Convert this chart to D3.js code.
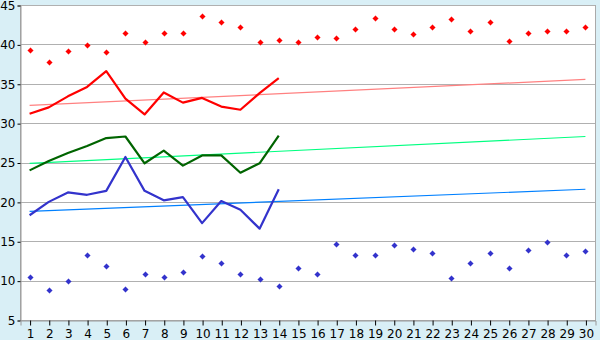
<!DOCTYPE html>
<html>
<head>
<meta charset="utf-8">
<script src="https://cdnjs.cloudflare.com/ajax/libs/d3/7.9.0/d3.min.js"></script>
<style>
  html, body { margin: 0; padding: 0; background: #d9eff6; }
  svg { display: block; }
  text { font-family: "DejaVu Sans", Verdana, sans-serif; font-size: 12px; fill: #000; }
</style>
</head>
<body>
<div id="chart"></div>
<script>
// days on the x axis
const days = d3.range(1, 31);
const yTicks = [5, 10, 15, 20, 25, 30, 35, 40, 45];

// upper scatter (red crosses), days 1..30
const redDots = [39.25, 37.7, 39.1, 39.9, 39.0, 41.5, 40.3, 41.5, 41.4, 43.6,
                 42.8, 42.2, 40.3, 40.6, 40.3, 40.9, 40.8, 41.9, 43.4, 42.0,
                 41.3, 42.2, 43.2, 41.7, 42.8, 40.4, 41.5, 41.7, 41.7, 42.2];
// lower scatter (blue crosses), days 1..30
const blueDots = [10.4, 8.8, 9.9, 13.2, 11.8, 8.9, 10.9, 10.4, 11.1, 13.1,
                  12.2, 10.8, 10.2, 9.3, 11.6, 10.8, 14.6, 13.2, 13.3, 14.5,
                  14.0, 13.5, 10.3, 12.3, 13.5, 11.6, 13.9, 14.9, 13.2, 13.7];

// lines, days 1..14
const redLine = [31.2, 32.0, 33.4, 34.6, 36.6, 33.1, 31.1, 33.9, 32.6, 33.2, 32.1, 31.7, 33.8, 35.7];
const greenLine = [24.0, 25.2, 26.2, 27.1, 28.1, 28.3, 24.9, 26.5, 24.6, 25.9, 25.9, 23.7, 24.9, 28.4];
const blueLine = [18.3, 20.0, 21.2, 20.9, 21.4, 25.7, 21.4, 20.2, 20.6, 17.3, 20.1, 19.0, 16.6, 21.6];

// trend lines: value at day 1 and day 30
const trendDays = [1, 30];
const redTrend = [32.25, 35.55];
const greenTrend = [24.9, 28.3];
const blueTrend = [18.8, 21.6];

(function () {
  const W = 600, H = 340;
  const m = { left: 20, right: 595, top: 5, bottom: 320 };

  const svg = d3.select('#chart').append('svg')
    .attr('width', W).attr('height', H);

  const x = d3.scalePoint().domain(days).range([m.left, m.right]).padding(0.5);
  const y = d3.scaleLinear().domain([5, 45]).range([m.bottom, m.top]);

  // plot area
  svg.append('rect')
    .attr('x', m.left + 0.5).attr('y', m.top + 0.5)
    .attr('width', m.right - m.left).attr('height', m.bottom - m.top)
    .attr('fill', '#fff').attr('stroke', '#aaa').attr('stroke-width', 1)
    .attr('shape-rendering', 'crispEdges');

  // gridlines
  svg.append('g').selectAll('line')
    .data(yTicks)
    .join('line')
    .attr('x1', m.left).attr('x2', m.right)
    .attr('y1', d => Math.round(y(d)) + 0.5).attr('y2', d => Math.round(y(d)) + 0.5)
    .attr('stroke', '#b0b0b0')
    .attr('shape-rendering', 'crispEdges');

  // axes
  const yAxis = d3.axisLeft(y).tickValues(yTicks).tickSize(3).tickPadding(2);
  const gy = svg.append('g').attr('transform', `translate(${m.left + 0.5},0.5)`).call(yAxis);
  const xAxis = d3.axisBottom(x).tickSize(5).tickPadding(4);
  const gx = svg.append('g').attr('transform', `translate(0.5,${m.bottom + 0.5})`).call(xAxis);
  [gy, gx].forEach(g => {
    g.select('.domain').attr('stroke', '#999');
    g.selectAll('.tick line').attr('stroke', '#000');
    g.selectAll('text').attr('font-size', 12).attr('font-family', '"DejaVu Sans", Verdana, sans-serif').attr('fill', '#000');
  });

  // trend lines
  const trendLine = d3.line().x((d, i) => x(trendDays[i])).y(d => y(d));
  [[redTrend, '#ff8080'], [greenTrend, '#00ff80'], [blueTrend, '#0080ff']].forEach(([vals, col]) => {
    svg.append('path')
      .attr('d', trendLine(vals))
      .attr('fill', 'none')
      .attr('stroke', col)
      .attr('stroke-width', 1.2);
  });

  // data lines
  const line = d3.line().x((d, i) => x(days[i])).y(d => y(d));
  [[redLine, '#ff0000'], [greenLine, '#006400'], [blueLine, '#3333cc']].forEach(([vals, col]) => {
    svg.append('path')
      .attr('d', line(vals))
      .attr('fill', 'none')
      .attr('stroke', col)
      .attr('stroke-width', 2.2)
      .attr('stroke-linejoin', 'round');
  });

  // cross markers
  const cross = 'M-2.5,-0.5H-1.5V-1.5H-0.5V-2.5H0.5V-1.5H1.5V-0.5H2.5V0.5H1.5V1.5H0.5V2.5H-0.5V1.5H-1.5V0.5H-2.5Z';
  [[redDots, '#ff0000'], [blueDots, '#3333cc']].forEach(([vals, col]) => {
    svg.append('g').selectAll('path')
      .data(vals)
      .join('path')
      .attr('d', cross)
      .attr('transform', (d, i) => `translate(${Math.round(x(days[i])) + 0.5},${Math.round(y(d)) + 0.5})`)
      .attr('fill', col)
      .attr('stroke', col)
      .attr('stroke-width', 0.6);
  });
})();
</script>
</body>
</html>
